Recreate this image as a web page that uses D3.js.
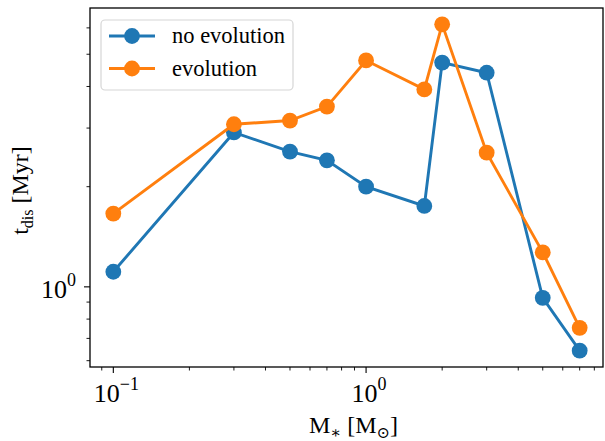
<!DOCTYPE html>
<html>
<head>
<meta charset="utf-8">
<script src="https://cdn.jsdelivr.net/npm/d3@7"></script>
<style>
  body { margin: 0; background: #fff; }
</style>
</head>
<body>
<script>
// data
var masses = [0.1, 0.3, 0.5, 0.7, 1.0, 1.7, 2.0, 3.0, 5.0, 7.0];
var noEvolution = [1.11, 2.91, 2.55, 2.40, 2.00, 1.75, 4.72, 4.40, 0.927, 0.643];
var evolution = [1.66, 3.08, 3.16, 3.48, 4.79, 3.92, 6.15, 2.53, 1.27, 0.753];
var seriesNames = ['no evolution', 'evolution'];
var seriesColors = ['#1f77b4', '#ff7f0e'];
var yMinor = [0.6, 0.7, 0.8, 0.9, 2, 3, 4, 5, 6];
var xMinor = [0.09, 0.2, 0.3, 0.4, 0.5, 0.6, 0.7, 0.8, 0.9, 2, 3, 4, 5, 6, 7, 8, 9];

var W = 605, H = 441;
var m = {left: 90, top: 8, right: 2, bottom: 74};
var FONT = "'Liberation Serif', 'Times New Roman', Times, 'DejaVu Serif', serif";

var svg = d3.select('body').append('svg')
    .attr('width', W)
    .attr('height', H)
    .attr('font-family', FONT)
    .style('font-family', FONT);

// matplotlib-like 5% margins in log space
function padLog(ext) {
    var a = Math.log10(ext[0]), b = Math.log10(ext[1]), p = (b - a) * 0.05;
    return [Math.pow(10, a - p), Math.pow(10, b + p)];
}
var allY = noEvolution.concat(evolution);

var x = d3.scaleLog()
    .domain(padLog(d3.extent(masses)))
    .range([m.left, W - m.right]);
var y = d3.scaleLog()
    .domain(padLog(d3.extent(allY)))
    .range([H - m.bottom, m.top]);

var x0 = m.left, x1 = W - m.right, y0 = H - m.bottom, y1 = m.top;

// ticks
var ax = svg.append('g').attr('id', 'axes');
ax.selectAll('line.xmin')
    .data(xMinor.filter(function(d) { return x(d) >= x0 && x(d) <= x1; }))
    .enter().append('line')
    .attr('x1', function(d) { return x(d); })
    .attr('x2', function(d) { return x(d); })
    .attr('y1', y0).attr('y2', y0 + 3.5)
    .attr('stroke', '#000').attr('stroke-width', 0.9);
ax.selectAll('line.xmaj')
    .data([0.1, 1])
    .enter().append('line')
    .attr('x1', function(d) { return x(d); })
    .attr('x2', function(d) { return x(d); })
    .attr('y1', y0).attr('y2', y0 + 6)
    .attr('stroke', '#000').attr('stroke-width', 1.1);
ax.selectAll('line.ymin')
    .data(yMinor.filter(function(d) { return y(d) <= y0 && y(d) >= y1; }))
    .enter().append('line')
    .attr('x1', x0 - 3.5).attr('x2', x0)
    .attr('y1', function(d) { return y(d); })
    .attr('y2', function(d) { return y(d); })
    .attr('stroke', '#000').attr('stroke-width', 0.9);
ax.append('line')
    .attr('x1', x0 - 6).attr('x2', x0)
    .attr('y1', y(1)).attr('y2', y(1))
    .attr('stroke', '#000').attr('stroke-width', 1.1);

// tick labels
var xl = ax.selectAll('text.xl')
    .data([{v: 0.1, e: '\u22121'}, {v: 1, e: '0'}])
    .enter().append('text')
    .attr('x', function(d) { return x(d.v) + 3; })
    .attr('y', y0 + 35)
    .attr('text-anchor', 'middle')
    .style('font-size', '26px');
xl.append('tspan').text('10');
xl.append('tspan').attr('dy', -12).style('font-size', '18px').text(function(d) { return d.e; });

var yl = ax.append('text')
    .attr('x', x0 - 14)
    .attr('y', y(1) + 11)
    .attr('text-anchor', 'end')
    .style('font-size', '26px');
yl.append('tspan').text('10');
yl.append('tspan').attr('dy', -12).style('font-size', '18px').text('0');

// axis labels
var xt = svg.append('text')
    .attr('x', (x0 + x1) / 2 + 7)
    .attr('y', 433)
    .attr('text-anchor', 'middle')
    .style('font-size', '24px');
xt.append('tspan').text('M');
xt.append('tspan').attr('dy', 5).style('font-size', '16px').text('\u2217');
xt.append('tspan').attr('dy', -5).text(' [M');
xt.append('tspan').attr('dy', 5).style('font-size', '16px').text('\u2299');
xt.append('tspan').attr('dy', -5).text(']');

var yt = svg.append('text')
    .attr('transform', 'translate(28,' + ((y0 + y1) / 2 + 3) + ') rotate(-90)')
    .attr('text-anchor', 'middle')
    .style('font-size', '24px');
yt.append('tspan').text('t');
yt.append('tspan').attr('dy', 5).style('font-size', '16px').text('dis');
yt.append('tspan').attr('dy', -5).text(' [Myr]');

// series
var series = [noEvolution, evolution];
var line = d3.line()
    .x(function(d, i) { return x(masses[i]); })
    .y(function(d) { return y(d); });

var plot = svg.append('g').attr('id', 'plot');
series.forEach(function(s, k) {
    var g = plot.append('g');
    g.append('path')
        .attr('d', line(s))
        .attr('fill', 'none')
        .attr('stroke', seriesColors[k])
        .attr('stroke-width', 2.9);
    g.selectAll('circle')
        .data(s)
        .enter().append('circle')
        .attr('cx', function(d, i) { return x(masses[i]); })
        .attr('cy', function(d) { return y(d); })
        .attr('r', 7.9)
        .attr('fill', seriesColors[k]);
});

// frame
svg.append('rect')
    .attr('x', x0).attr('y', y1)
    .attr('width', x1 - x0).attr('height', y0 - y1)
    .attr('fill', 'none')
    .attr('stroke', '#000')
    .attr('stroke-width', 1.3);

// legend
var leg = svg.append('g').attr('id', 'legend');
leg.append('rect')
    .attr('x', 101).attr('y', 20)
    .attr('width', 192).attr('height', 70)
    .attr('rx', 4)
    .attr('fill', '#fff').attr('fill-opacity', 0.8)
    .attr('stroke', '#d6d6d6').attr('stroke-width', 1.2);
seriesNames.forEach(function(n, k) {
    var ly = 36 + k * 32.5;
    leg.append('line')
        .attr('x1', 109).attr('x2', 155)
        .attr('y1', ly).attr('y2', ly)
        .attr('stroke', seriesColors[k]).attr('stroke-width', 2.9);
    leg.append('circle')
        .attr('cx', 132).attr('cy', ly).attr('r', 7.9)
        .attr('fill', seriesColors[k]);
    leg.append('text')
        .attr('x', 172).attr('y', ly + 7)
        .attr('font-family', FONT)
        .style('font-family', FONT)
        .style('font-size', '22.5px')
        .append('tspan')
        .text(n);
});
</script>
</body>
</html>
